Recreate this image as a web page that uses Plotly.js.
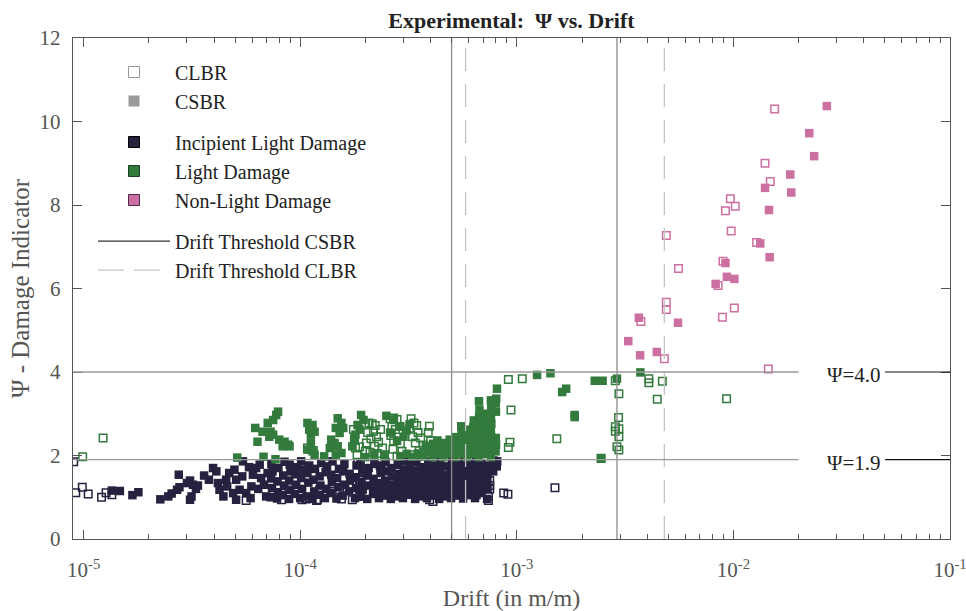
<!DOCTYPE html>
<html>
<head>
<meta charset="utf-8">
<script src="https://cdn.plot.ly/plotly-3.0.1.min.js"></script>
<style>
  html, body { margin: 0; padding: 0; background: #ffffff; }
  #chart { width: 966px; height: 611px; }
</style>
</head>
<body>
<div id="chart"></div>
<script>
// ---- Measured points: [drift (m/m), psi] ----

// Incipient light damage, CSBR specimens
const ildCSBR = [
  [1.35e-5,1.16],[1.47e-5,1.15],[1.68e-5,1.05],[1.79e-5,1.12],[2.26e-5,0.95],[2.46e-5,1.02],[2.55e-5,1.09],
  [2.70e-5,1.18],[2.77e-5,1.24],[2.75e-5,1.54],[3.00e-5,1.34],[3.10e-5,1.40],[3.20e-5,1.30],[3.30e-5,1.20],
  [3.15e-5,1.02],[3.10e-5,0.94],[3.37e-5,1.28],[3.60e-5,1.52],[3.79e-5,1.42],[3.96e-5,1.70],[4.10e-5,1.62],
  [4.17e-5,1.34],[4.24e-5,1.18],[4.42e-5,1.02],[4.55e-5,1.42],[4.60e-5,1.26],[4.70e-5,1.58],[4.90e-5,1.10],
  [4.97e-5,1.66],[5.06e-5,1.42],[5.06e-5,0.94],[5.25e-5,1.18],[5.40e-5,1.50],[5.44e-5,1.86],[5.63e-5,1.10],
  [5.80e-5,1.72],[5.90e-5,0.98],[5.95e-5,1.26],[6.05e-5,1.54],[6.26e-5,1.70],[6.40e-5,1.20],[6.50e-5,1.78],
  [6.60e-5,1.46],[6.80e-5,1.30],[6.96e-5,1.02],[7.07e-5,1.58],
  [7.30e-5,1.00],[7.41e-5,1.22],[7.34e-5,1.45],[7.45e-5,1.62],[7.36e-5,1.80],
  [7.82e-5,0.97],[7.90e-5,1.12],[7.85e-5,1.38],[7.93e-5,1.70],
  [8.30e-5,1.05],[8.42e-5,1.28],[8.35e-5,1.52],[8.46e-5,1.85],
  [8.88e-5,0.96],[8.97e-5,1.18],[8.90e-5,1.40],[9.02e-5,1.62],[8.94e-5,1.78],
  [9.45e-5,1.08],[9.58e-5,1.30],[9.50e-5,1.55],[9.62e-5,1.72],
  [1.00e-4,0.98],[1.02e-4,1.20],[1.01e-4,1.46],[1.03e-4,1.66],[1.01e-4,1.86],
  [1.07e-4,1.02],[1.09e-4,1.35],[1.08e-4,1.58],[1.10e-4,1.76],
  [1.14e-4,0.96],[1.16e-4,1.14],[1.15e-4,1.42],[1.17e-4,1.68],
  [1.22e-4,1.06],[1.24e-4,1.28],[1.23e-4,1.50],[1.25e-4,1.82],
  [1.30e-4,0.98],[1.32e-4,1.20],[1.31e-4,1.60],[1.33e-4,1.74],
  [1.38e-4,1.10],[1.40e-4,1.36],[1.39e-4,1.54],[1.41e-4,1.86],
  [1.47e-4,0.97],[1.50e-4,1.24],[1.48e-4,1.46],[1.51e-4,1.68],
  [1.57e-4,1.04],[1.59e-4,1.30],[1.58e-4,1.62],[1.60e-4,1.80],
  [1.68e-4,1.14],[1.70e-4,1.40],[1.69e-4,1.56],
  [1.79e-4,0.98],[1.81e-4,1.22],[1.80e-4,1.48],[1.82e-4,1.76],
  [1.91e-4,1.02],[1.93e-4,1.18],[1.92e-4,1.36],[1.94e-4,1.64],[1.90e-4,1.84],
  [2.04e-4,0.96],[2.06e-4,1.28],[2.05e-4,1.52],[2.07e-4,1.70],
  [2.17e-4,1.08],[2.19e-4,1.26],[2.18e-4,1.44],[2.20e-4,1.80],
  [2.31e-4,0.98],[2.34e-4,1.16],[2.32e-4,1.34],[2.35e-4,1.58],[2.33e-4,1.76],
  [2.46e-4,1.04],[2.49e-4,1.22],[2.47e-4,1.40],[2.50e-4,1.62],[2.48e-4,1.84],
  [2.62e-4,0.96],[2.65e-4,1.12],[2.63e-4,1.30],[2.66e-4,1.50],[2.64e-4,1.70],
  [2.80e-4,1.02],[2.83e-4,1.20],[2.81e-4,1.38],[2.84e-4,1.56],[2.82e-4,1.78],
  [2.98e-4,0.98],[3.01e-4,1.14],[2.99e-4,1.32],[3.02e-4,1.48],[3.00e-4,1.66],[3.03e-4,1.86],
  [3.18e-4,1.06],[3.21e-4,1.24],[3.19e-4,1.42],[3.22e-4,1.60],[3.20e-4,1.80],
  [3.39e-4,0.96],[3.42e-4,1.12],[3.40e-4,1.30],[3.43e-4,1.46],[3.41e-4,1.64],[3.44e-4,1.84],
  [3.61e-4,1.02],[3.64e-4,1.20],[3.62e-4,1.38],[3.65e-4,1.54],[3.63e-4,1.72],
  [3.85e-4,0.98],[3.88e-4,1.16],[3.86e-4,1.32],[3.89e-4,1.50],[3.87e-4,1.68],[3.90e-4,1.86],
  [4.10e-4,1.04],[4.13e-4,1.22],[4.11e-4,1.40],[4.14e-4,1.58],[4.12e-4,1.76],
  [4.38e-4,0.96],[4.41e-4,1.12],[4.39e-4,1.30],[4.42e-4,1.48],[4.40e-4,1.66],[4.43e-4,1.84],
  [4.67e-4,1.02],[4.70e-4,1.20],[4.68e-4,1.36],[4.71e-4,1.54],[4.69e-4,1.74],
  [4.97e-4,0.98],[5.00e-4,1.16],[4.98e-4,1.34],[5.01e-4,1.52],[4.99e-4,1.70],[5.02e-4,1.86],
  [5.30e-4,1.04],[5.33e-4,1.22],[5.31e-4,1.40],[5.34e-4,1.58],[5.32e-4,1.78],
  [5.65e-4,0.97],[5.68e-4,1.14],[5.66e-4,1.32],[5.69e-4,1.50],[5.67e-4,1.68],[5.70e-4,1.86],
  [6.02e-4,1.05],[6.06e-4,1.24],[6.04e-4,1.42],[6.07e-4,1.60],[6.05e-4,1.80],
  [6.41e-4,0.98],[6.45e-4,1.16],[6.43e-4,1.34],[6.46e-4,1.52],[6.44e-4,1.70],[6.47e-4,1.87],
  [6.84e-4,1.10],[6.88e-4,1.28],[6.86e-4,1.46],[6.89e-4,1.64],[6.87e-4,1.82],
  [7.29e-4,0.96],[7.33e-4,1.20],[7.31e-4,1.40],[7.34e-4,1.58],[7.32e-4,1.76],
  [7.78e-4,1.62],[7.82e-4,1.78],[7.80e-4,1.88],
  [8.08e-4,1.74],[8.12e-4,1.86]
];

// Incipient light damage, CLBR specimens
const ildCLBR = [
  [9.0e-6,1.85],[9.2e-6,1.11],[9.86e-6,1.24],[1.05e-5,1.08],[1.21e-5,1.00],[1.27e-5,1.11],[1.35e-5,1.06],
  [5.63e-5,0.92],[8.17e-5,1.10],[8.20e-5,0.94],[1.02e-4,0.94],[1.06e-4,0.96],[1.19e-4,0.92],[1.10e-4,0.98],
  [1.23e-4,1.18],[1.20e-4,0.94],[1.39e-4,1.14],[1.55e-4,0.96],[1.52e-4,1.18],[1.84e-4,1.82],[1.98e-4,1.66],
  [1.94e-4,1.58],[1.88e-4,1.44],[1.94e-4,1.20],[1.88e-4,1.02],[1.74e-4,1.30],[1.74e-4,0.94],[2.36e-4,1.70],
  [2.88e-4,1.14],[3.73e-4,1.10],[3.96e-4,0.94],[4.10e-4,0.90],[6.46e-4,1.38],[6.46e-4,1.10],[7.30e-4,1.56],
  [7.50e-4,1.40],[7.50e-4,1.28],[7.50e-4,1.20],[6.50e-4,1.26],[6.50e-4,1.06],[7.40e-4,1.02],[7.40e-4,0.92],
  [8.70e-4,1.10],[9.10e-4,1.07],[1.50e-3,1.23]
];

// Light damage, CSBR specimens
const ldCSBR = [
  [5.12e-5,1.95],[6.77e-5,1.97],[7.69e-5,1.91],
  [6.20e-5,2.66],[6.35e-5,2.33],[6.70e-5,2.57],[7.08e-5,2.78],[7.50e-5,2.85],[7.75e-5,2.97],[7.90e-5,3.05],
  [7.30e-5,2.57],[7.50e-5,2.50],[7.20e-5,2.45],[8.00e-5,2.38],[8.47e-5,2.33],[8.80e-5,2.26],[8.30e-5,2.22],
  [8.93e-5,2.22],
  [1.08e-4,2.78],[1.14e-4,2.73],[1.10e-4,2.62],[1.165e-4,2.57],[1.12e-4,2.50],[1.08e-4,2.14],[1.14e-4,2.10],
  [1.165e-4,2.02],[1.12e-4,2.30],
  [1.49e-4,2.89],[1.55e-4,2.78],[1.46e-4,2.66],[1.58e-4,2.66],[1.52e-4,2.54],[1.39e-4,2.38],[1.44e-4,2.30],
  [1.49e-4,2.22],[1.37e-4,2.18],[1.29e-4,1.98],[1.46e-4,2.02],[1.55e-4,2.06],
  [1.91e-4,2.97],[1.96e-4,2.85],[1.84e-4,2.73],[1.88e-4,2.62],[1.80e-4,2.50],[1.78e-4,2.38],[1.74e-4,2.22],
  [2.50e-4,2.95],[2.70e-4,2.85],[2.90e-4,2.70],[3.10e-4,2.60],[2.60e-4,2.55],[3.00e-4,2.45],[2.80e-4,2.35],
  [3.20e-4,2.75],
  [2.00e-4,1.96],[2.20e-4,2.02],[2.45e-4,1.98],[2.90e-4,1.98],[3.10e-4,2.04],[3.30e-4,1.97],[3.50e-4,2.05],
  [3.70e-4,1.98],[3.90e-4,2.08],[3.80e-4,2.22],
  [4.08e-4,1.96],[4.12e-4,2.12],[4.10e-4,2.28],
  [4.28e-4,2.04],[4.32e-4,2.20],[4.30e-4,2.36],
  [4.58e-4,1.96],[4.62e-4,2.12],[4.60e-4,2.30],
  [4.88e-4,2.04],[4.92e-4,2.20],[4.90e-4,2.38],
  [5.18e-4,1.96],[5.22e-4,2.12],[5.20e-4,2.28],[5.21e-4,2.44],
  [5.53e-4,2.04],[5.57e-4,2.20],[5.55e-4,2.36],[5.56e-4,2.52],[5.54e-4,2.70],
  [5.88e-4,1.96],[5.92e-4,2.12],[5.90e-4,2.28],[5.91e-4,2.44],[5.89e-4,2.62],
  [6.28e-4,2.04],[6.32e-4,2.20],[6.30e-4,2.36],[6.31e-4,2.52],[6.29e-4,2.68],[6.33e-4,2.84],
  [6.68e-4,1.96],[6.72e-4,2.12],[6.70e-4,2.28],[6.71e-4,2.44],[6.69e-4,2.60],[6.73e-4,2.76],[6.70e-4,2.92],
  [6.72e-4,3.10],[6.69e-4,3.30],
  [7.18e-4,2.04],[7.22e-4,2.20],[7.20e-4,2.36],[7.21e-4,2.52],[7.19e-4,2.68],[7.23e-4,2.84],[7.20e-4,3.00],
  [7.58e-4,1.96],[7.62e-4,2.12],[7.60e-4,2.28],[7.61e-4,2.44],[7.59e-4,2.60],[7.63e-4,2.76],[7.60e-4,2.95],
  [7.62e-4,3.15],[7.59e-4,3.32],
  [7.98e-4,2.10],[8.02e-4,2.26],[8.00e-4,2.42],[8.01e-4,3.05],[7.99e-4,3.25],[8.03e-4,3.36],
  [8.10e-4,3.60],[1.24e-3,3.93],[1.43e-3,3.97],[1.62e-3,3.52],[1.69e-3,3.60],[1.85e-3,2.97],[1.85e-3,2.92],
  [2.29e-3,3.79],[2.49e-3,3.79],[2.90e-3,3.84],[3.72e-3,3.99],[2.45e-3,1.94]
];

// Light damage, CLBR specimens
const ldCLBR = [
  [9.9e-6,1.97],[1.23e-5,2.42],[1.08e-4,2.18],[1.15e-4,2.12],[1.88e-4,2.21],[2.00e-4,2.10],
  [1.76e-4,2.62],[1.78e-4,2.40],[1.80e-4,2.18],[1.83e-4,2.02],
  [2.00e-4,2.75],[2.08e-4,2.78],[2.15e-4,2.76],[2.22e-4,2.72],[2.05e-4,2.55],[2.18e-4,2.58],[2.12e-4,2.40],
  [2.25e-4,2.45],[2.02e-4,2.30],[2.20e-4,2.22],[2.30e-4,2.32],[2.10e-4,2.08],[2.28e-4,2.05],[2.35e-4,2.62],
  [2.40e-4,2.18],[2.45e-4,2.02],
  [2.60e-4,2.88],[2.70e-4,2.90],[2.80e-4,2.86],[2.65e-4,2.70],[2.75e-4,2.62],[2.62e-4,2.48],[2.85e-4,2.52],
  [2.70e-4,2.35],[2.90e-4,2.28],[2.68e-4,2.15],[2.95e-4,2.10],[2.80e-4,1.98],
  [3.25e-4,2.88],[3.35e-4,2.78],[3.20e-4,2.65],[3.45e-4,2.72],[3.50e-4,2.55],[3.30e-4,2.45],[3.60e-4,2.42],
  [3.40e-4,2.30],[3.70e-4,2.25],[3.55e-4,2.12],[3.80e-4,2.10],[3.65e-4,1.98],[3.90e-4,2.55],[3.95e-4,2.70],
  [4.00e-4,2.35],[3.30e-4,2.02],
  [9.14e-4,3.82],[1.06e-3,3.84],[9.40e-4,3.09],[1.53e-3,2.40],[9.30e-4,2.32],[9.14e-4,2.19],[2.45e-3,1.93],
  [2.85e-3,3.79],[4.07e-3,3.84],[4.07e-3,3.74],[4.70e-3,3.78],[2.96e-3,3.48],[4.45e-3,3.35],[9.30e-3,3.36],
  [2.95e-3,2.91],[2.85e-3,2.69],[2.96e-3,2.64],[2.85e-3,2.58],[2.96e-3,2.45],[2.90e-3,2.21],[2.96e-3,2.13]
];

// Non-light damage, CSBR specimens
const nldCSBR = [
  [2.70e-2,10.37],[2.24e-2,9.72],[2.36e-2,9.17],[1.83e-2,8.73],[1.40e-2,8.41],[1.85e-2,8.30],[1.46e-2,7.88],
  [1.33e-2,7.08],[1.47e-2,6.75],[9.19e-3,6.61],[9.33e-3,6.28],[1.01e-2,6.23],[8.28e-3,6.11],[3.66e-3,5.30],
  [5.55e-3,5.18],[3.27e-3,4.74],[4.43e-3,4.48],[3.71e-3,4.40]
];

// Non-light damage, CLBR specimens
const nldCLBR = [
  [1.55e-2,10.30],[1.40e-2,9.00],[1.48e-2,8.56],[9.68e-3,8.15],[1.02e-2,7.97],[9.19e-3,7.86],[9.77e-3,7.38],
  [4.90e-3,7.27],[1.28e-2,7.10],[8.95e-3,6.65],[5.58e-3,6.48],[8.50e-3,6.07],[4.90e-3,5.67],[4.90e-3,5.50],
  [3.74e-3,5.21],[8.90e-3,5.31],[1.01e-2,5.53],[4.80e-3,4.32],[1.45e-2,4.07]
];

// Drift thresholds for each specimen type
const thresholdCSBR = [5.0e-4, 2.9e-3];
const thresholdCLBR = [5.8e-4, 4.8e-3];

// Damage-indicator limits
const psiLevels = [4.0, 1.9];

// Axis ticks
const xTickVals = [1e-5, 1e-4, 1e-3, 1e-2, 1e-1];
const xTickText = ['10<sup>-5</sup>', '10<sup>-4</sup>', '10<sup>-3</sup>', '10<sup>-2</sup>', '10<sup>-1</sup>'];
const yTickVals = [0, 2, 4, 6, 8, 10, 12];

// ---- Styling ----
const FONT = 'Liberation Serif, Times New Roman, serif';
const NAVY = '#26213f';
const GREEN = '#337a3d';
const PINK = '#cc6fa1';
const GREY = '#9a9a9a';
const AXIS = '#555555';
const psiRange = [0, 12];
const logXRange = [-5.049, -1];

const xs = pts => pts.map(p => p[0]);
const ys = pts => pts.map(p => p[1]);

function solidSet(pts, color) {
  return {
    type: 'scatter', mode: 'markers', x: xs(pts), y: ys(pts),
    marker: { symbol: 'square', size: 8.5, color: color, line: { width: 0 } },
    showlegend: false, hoverinfo: 'skip'
  };
}
function hollowSet(pts, color) {
  return {
    type: 'scatter', mode: 'markers', x: xs(pts), y: ys(pts),
    marker: { symbol: 'square-open', size: 7.5, color: color, line: { width: 1.5, color: color } },
    showlegend: false, hoverinfo: 'skip'
  };
}
function verticals(vals, style) {
  const x = [], y = [];
  vals.forEach(v => { x.push(v, v, null); y.push(psiRange[0], psiRange[1], null); });
  return { type: 'scatter', mode: 'lines', x: x, y: y, line: style, showlegend: false, hoverinfo: 'skip' };
}
function legendEntry(name, group, extra) {
  return Object.assign({ type: 'scatter', x: [null], y: [null], name: name, legendgroup: group, hoverinfo: 'skip' }, extra);
}

// Minor ticks at 2..9 of each decade
const minorVals = [];
for (let e = -6; e <= -2; e++) for (let m = 2; m <= 9; m++) minorVals.push(m * Math.pow(10, e));

const traces = [
  solidSet(ildCSBR, NAVY),
  hollowSet(ildCLBR, NAVY),
  solidSet(ldCSBR, GREEN),
  hollowSet(ldCLBR, GREEN),
  solidSet(nldCSBR, PINK),
  hollowSet(nldCLBR, PINK),
  verticals(thresholdCSBR, { color: '#8c8c8c', width: 1.3 }),
  verticals(thresholdCLBR, { color: '#c4c4c4', width: 1.3, dash: '23px,13px' }),

  legendEntry('CLBR', 'spec', { mode: 'markers', marker: { symbol: 'square-open', size: 11, color: GREY, line: { width: 1, color: GREY } } }),
  legendEntry('CSBR', 'spec', { mode: 'markers', marker: { symbol: 'square', size: 11, color: GREY, line: { width: 0 } } }),
  legendEntry('Incipient Light Damage', 'dmg', { mode: 'markers', marker: { symbol: 'square', size: 11, color: NAVY, line: { width: 1, color: '#000000' } } }),
  legendEntry('Light Damage', 'dmg', { mode: 'markers', marker: { symbol: 'square', size: 11, color: GREEN, line: { width: 1, color: '#1c3f22' } } }),
  legendEntry('Non-Light Damage', 'dmg', { mode: 'markers', marker: { symbol: 'square', size: 11, color: PINK, line: { width: 1, color: '#4a2a4a' } } }),
  legendEntry('Drift Threshold CSBR', 'thr', { mode: 'lines', line: { color: '#333333', width: 1.3 } }),
  legendEntry('Drift Threshold CLBR', 'thr', { mode: 'lines', line: { color: '#c4c4c4', width: 1.3, dash: '26px,10px' } })
];

const shapes = [];
const annotations = [];
psiLevels.forEach(p => {
  shapes.push({ type: 'line', xref: 'paper', yref: 'y', x0: 0, x1: 0.8274, y0: p, y1: p,
                line: { color: '#9a9a9a', width: 1.3 } });
  shapes.push({ type: 'line', xref: 'paper', yref: 'y', x0: 0.926, x1: 1, y0: p, y1: p,
                line: { color: '#111111', width: 1.2 } });
  annotations.push({ xref: 'paper', yref: 'y', x: 0.890, y: p, yshift: -3, showarrow: false,
                     text: '\u03A8=' + p.toFixed(1), xanchor: 'center', yanchor: 'middle',
                     font: { family: FONT, size: 21, color: '#222222' } });
});

const layout = {
  width: 966, height: 611,
  margin: { l: 73, r: 16, t: 38, b: 72 },
  paper_bgcolor: '#ffffff', plot_bgcolor: '#ffffff',
  font: { family: FONT, size: 20, color: AXIS },
  title: {
    text: '<b>Experimental:\u00a0 \u03A8 vs. Drift</b>',
    font: { family: FONT, size: 22, color: '#222222' },
    xref: 'paper', x: 0.5, xanchor: 'center',
    yref: 'container', y: 0.966, yanchor: 'middle'
  },
  xaxis: {
    type: 'log', range: logXRange,
    tickmode: 'array', tickvals: xTickVals, ticktext: xTickText,
    ticks: 'inside', ticklen: 9, tickwidth: 1, tickcolor: AXIS,
    minor: { tickmode: 'array', tickvals: minorVals, ticks: 'inside', ticklen: 5, tickwidth: 1, tickcolor: AXIS, showgrid: false },
    showline: true, linecolor: AXIS, linewidth: 1.2, mirror: 'ticks',
    showgrid: false, zeroline: false,
    tickfont: { family: FONT, size: 21, color: AXIS },
    ticklabelstandoff: 12, ticklabeloverflow: 'allow',
    title: { text: 'Drift (in m/m)', font: { family: FONT, size: 24, color: AXIS }, standoff: 7 }
  },
  yaxis: {
    range: psiRange, tickmode: 'array', tickvals: yTickVals,
    ticks: 'inside', ticklen: 9, tickwidth: 1, tickcolor: AXIS,
    showline: true, linecolor: AXIS, linewidth: 1.2, mirror: 'ticks',
    showgrid: false, zeroline: false,
    tickfont: { family: FONT, size: 21, color: AXIS },
    ticklabelstandoff: 7,
    title: { text: '\u03A8 - Damage Indicator', font: { family: FONT, size: 25, color: AXIS }, standoff: 2 }
  },
  showlegend: true,
  legend: {
    x: 0.0228, y: 0.971, xanchor: 'left', yanchor: 'top',
    bgcolor: 'rgba(0,0,0,0)', borderwidth: 0,
    traceorder: 'grouped', tracegroupgap: 12,
    itemwidth: 72, itemclick: false, itemdoubleclick: false,
    font: { family: FONT, size: 20, color: '#222222' }
  },
  shapes: shapes,
  annotations: annotations
};

Plotly.newPlot('chart', traces, layout, { displayModeBar: false, staticPlot: true });
</script>
</body>
</html>
